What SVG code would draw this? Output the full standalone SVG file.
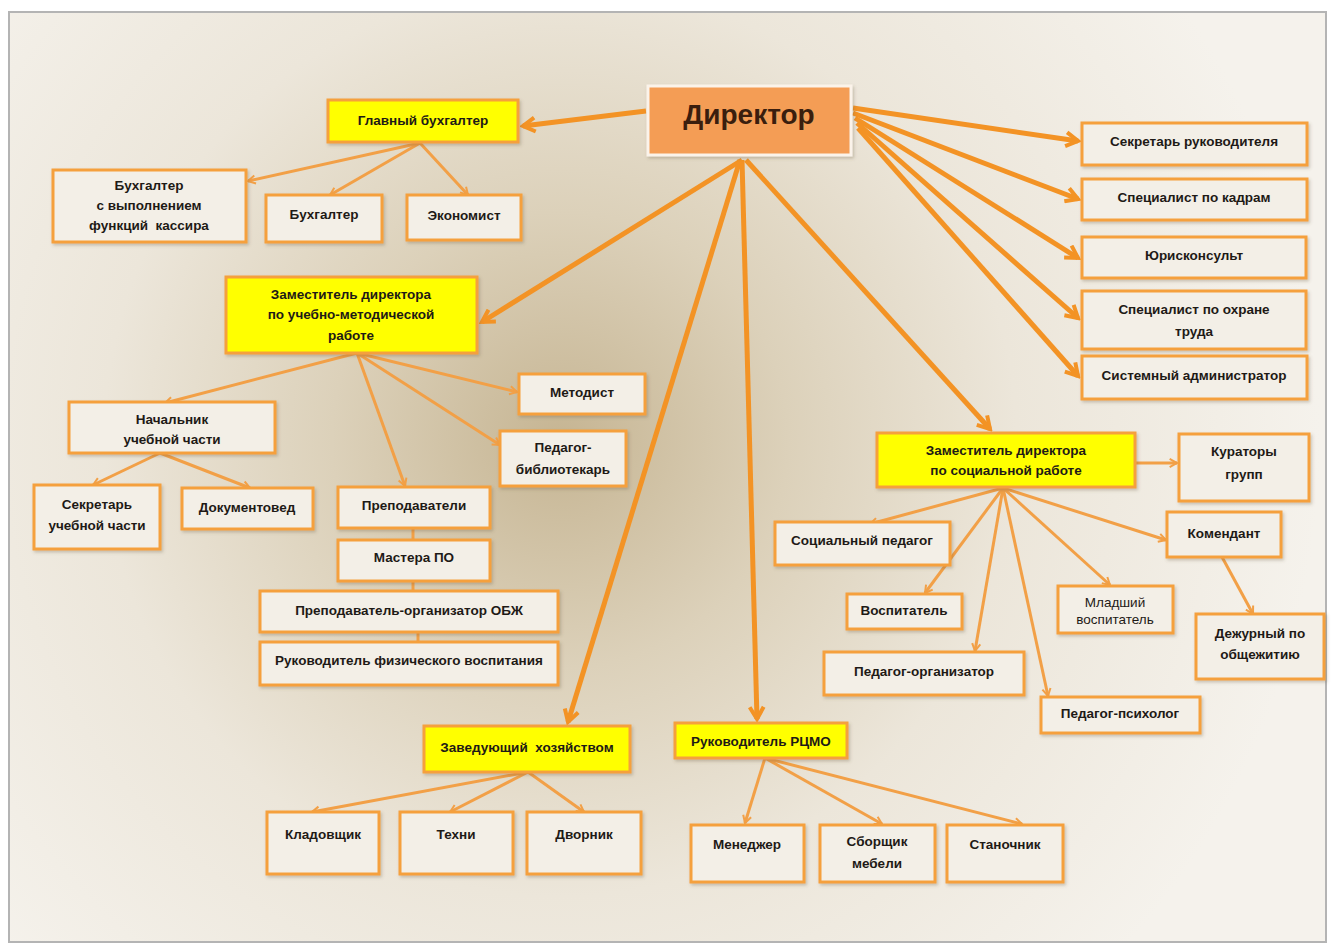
<svg xmlns="http://www.w3.org/2000/svg" width="1331" height="946" viewBox="0 0 1331 946">
<defs>
<radialGradient id="bg" cx="560" cy="440" r="760" gradientUnits="userSpaceOnUse">
<stop offset="0" stop-color="#c6b593"/>
<stop offset="0.3" stop-color="#dcd1ba"/>
<stop offset="0.6" stop-color="#ece6da"/>
<stop offset="1" stop-color="#f5f2ec"/>
</radialGradient>
<filter id="sh" x="-10%" y="-10%" width="125%" height="130%">
<feDropShadow dx="1.5" dy="2" stdDeviation="1.5" flood-color="#6b5a40" flood-opacity="0.3"/>
</filter>
<marker id="ah" viewBox="0 0 18 18" refX="15" refY="9" markerWidth="18" markerHeight="18" markerUnits="userSpaceOnUse" orient="auto">
<path d="M3,2 L15,9 L3,16" fill="none" stroke="#f39325" stroke-width="4" stroke-linejoin="miter"/>
</marker>
<marker id="as" viewBox="0 0 12 12" refX="10" refY="6" markerWidth="11" markerHeight="11" markerUnits="userSpaceOnUse" orient="auto">
<path d="M2,1.5 L10,6 L2,10.5" fill="none" stroke="#f2a047" stroke-width="2.2"/>
</marker>
<style>
.box{fill:#f3efe7;stroke:#f5a03c;stroke-width:3;filter:url(#sh)}
.yel{fill:#ffff00;stroke:#f5a03c;stroke-width:3;filter:url(#sh)}
.dir{fill:#f49d55;stroke:#fbf3ea;stroke-width:3;filter:url(#sh)}
text{font-family:"Liberation Sans",Arial,sans-serif;font-weight:bold;font-size:13.5px;fill:#1e1a16;text-anchor:middle}
.big{font-size:28px;fill:#3a1e0e}
.thin{font-weight:normal}
.thick{stroke:#f39325;stroke-width:5;fill:none;marker-end:url(#ah)}
.tl{stroke:#f2a047;stroke-width:3;fill:none;marker-end:url(#as)}
.tn{stroke:#f2a047;stroke-width:3;fill:none}
</style>
</defs>
<rect x="0" y="0" width="1331" height="946" fill="#ffffff"/>
<rect x="9" y="12" width="1317" height="930" fill="url(#bg)" stroke="#b4b4b4" stroke-width="2"/>

<g id="connectors">
<line class="thick" x1="646" y1="111" x2="523" y2="126"/>
<line class="thick" x1="853" y1="108" x2="1078" y2="141"/>
<line class="thick" x1="853" y1="113" x2="1078" y2="199"/>
<line class="thick" x1="855" y1="118" x2="1078" y2="258"/>
<line class="thick" x1="857" y1="123" x2="1078" y2="318"/>
<line class="thick" x1="858" y1="128" x2="1078" y2="376"/>
<line class="thick" x1="742" y1="160" x2="482" y2="322"/>
<line class="thick" x1="740" y1="160" x2="568" y2="722"/>
<line class="thick" x1="742" y1="160" x2="757" y2="719"/>
<line class="thick" x1="746" y1="160" x2="990" y2="429"/>

<line class="tl" x1="420" y1="143" x2="248" y2="181"/>
<line class="tl" x1="420" y1="143" x2="330" y2="195"/>
<line class="tl" x1="420" y1="143" x2="468" y2="195"/>

<line class="tl" x1="357" y1="353" x2="165" y2="403"/>
<line class="tl" x1="357" y1="353" x2="517" y2="392"/>
<line class="tl" x1="357" y1="353" x2="500" y2="445"/>
<line class="tl" x1="357" y1="353" x2="405" y2="486"/>

<line class="tl" x1="160" y1="453" x2="93" y2="485"/>
<line class="tl" x1="160" y1="453" x2="250" y2="488"/>

<line class="tn" x1="413" y1="528" x2="413" y2="540"/>
<line class="tn" x1="413" y1="581" x2="413" y2="591"/>
<line class="tn" x1="418" y1="632" x2="418" y2="642"/>

<line class="tl" x1="528" y1="772" x2="312" y2="812"/>
<line class="tl" x1="528" y1="772" x2="450" y2="812"/>
<line class="tl" x1="528" y1="772" x2="584" y2="812"/>

<line class="tl" x1="765" y1="758" x2="745" y2="823"/>
<line class="tl" x1="765" y1="758" x2="882" y2="824"/>
<line class="tl" x1="765" y1="758" x2="1022" y2="824"/>

<line class="tl" x1="1003" y1="488" x2="870" y2="524"/>
<line class="tl" x1="1003" y1="488" x2="925" y2="593"/>
<line class="tl" x1="1003" y1="488" x2="975" y2="651"/>
<line class="tl" x1="1003" y1="488" x2="1048" y2="696"/>
<line class="tl" x1="1003" y1="488" x2="1110" y2="585"/>
<line class="tl" x1="1003" y1="488" x2="1166" y2="540"/>
<line class="tl" x1="1136" y1="463" x2="1177" y2="463"/>
<line class="tl" x1="1222" y1="557" x2="1253" y2="614"/>
</g>

<g id="n-director"><rect class="dir" x="648" y="86" width="203" height="69"/><text class="big" x="749" y="124">Директор</text></g>
<g id="n-glbuh"><rect class="yel" x="328" y="100" width="190" height="42"/><text x="423" y="125">Главный бухгалтер</text></g>
<g id="n-buhkas"><rect class="box" x="53" y="170" width="193" height="72"/><text x="149" y="190">Бухгалтер</text><text x="149" y="210">с выполнением</text><text x="149" y="230" xml:space="preserve">функций  кассира</text></g>
<g id="n-buh"><rect class="box" x="266" y="195" width="116" height="47"/><text x="324" y="219">Бухгалтер</text></g>
<g id="n-econ"><rect class="box" x="407" y="195" width="114" height="45"/><text x="464" y="220">Экономист</text></g>

<g id="n-zamumr"><rect class="yel" x="226" y="277" width="251" height="76"/><text x="351" y="299">Заместитель директора</text><text x="351" y="319">по учебно-методической</text><text x="351" y="340">работе</text></g>
<g id="n-nachuch"><rect class="box" x="69" y="402" width="206" height="51"/><text x="172" y="424">Начальник</text><text x="172" y="444">учебной части</text></g>
<g id="n-metod"><rect class="box" x="519" y="374" width="126" height="40"/><text x="582" y="397">Методист</text></g>
<g id="n-pedbib"><rect class="box" x="500" y="431" width="126" height="55"/><text x="563" y="452">Педагог-</text><text x="563" y="474">библиотекарь</text></g>
<g id="n-sekruch"><rect class="box" x="34" y="485" width="126" height="64"/><text x="97" y="509">Секретарь</text><text x="97" y="530">учебной части</text></g>
<g id="n-dokum"><rect class="box" x="182" y="488" width="131" height="41"/><text x="247" y="512">Документовед</text></g>
<g id="n-prepod"><rect class="box" x="338" y="487" width="152" height="41"/><text x="414" y="510">Преподаватели</text></g>
<g id="n-master"><rect class="box" x="338" y="540" width="152" height="41"/><text x="414" y="562">Мастера ПО</text></g>
<g id="n-obzh"><rect class="box" x="260" y="591" width="298" height="41"/><text x="409" y="615">Преподаватель-организатор ОБЖ</text></g>
<g id="n-fiz"><rect class="box" x="260" y="642" width="298" height="43"/><text x="409" y="665">Руководитель физического воспитания</text></g>

<g id="n-zavhoz"><rect class="yel" x="424" y="726" width="206" height="46"/><text x="527" y="752" xml:space="preserve">Заведующий  хозяйством</text></g>
<g id="n-rcmo"><rect class="yel" x="675" y="723" width="172" height="35"/><text x="761" y="746">Руководитель РЦМО</text></g>
<g id="n-klad"><rect class="box" x="267" y="812" width="112" height="62"/><text x="323" y="839">Кладовщик</text></g>
<g id="n-tehni"><rect class="box" x="400" y="812" width="113" height="62"/><text x="456" y="839">Техни</text></g>
<g id="n-dvor"><rect class="box" x="527" y="812" width="114" height="62"/><text x="584" y="839">Дворник</text></g>
<g id="n-menedj"><rect class="box" x="691" y="825" width="113" height="57"/><text x="747" y="849">Менеджер</text></g>
<g id="n-sborsh"><rect class="box" x="820" y="825" width="115" height="57"/><text x="877" y="846">Сборщик</text><text x="877" y="868">мебели</text></g>
<g id="n-stan"><rect class="box" x="947" y="825" width="116" height="57"/><text x="1005" y="849">Станочник</text></g>

<g id="n-sekruk"><rect class="box" x="1082" y="123" width="225" height="42"/><text x="1194" y="146">Секретарь руководителя</text></g>
<g id="n-kadr"><rect class="box" x="1082" y="179" width="225" height="41"/><text x="1194" y="202">Специалист по кадрам</text></g>
<g id="n-yur"><rect class="box" x="1082" y="237" width="224" height="41"/><text x="1194" y="260">Юрисконсульт</text></g>
<g id="n-ohr"><rect class="box" x="1082" y="291" width="224" height="58"/><text x="1194" y="314">Специалист по охране</text><text x="1194" y="336">труда</text></g>
<g id="n-sysadm"><rect class="box" x="1082" y="356" width="225" height="43"/><text x="1194" y="380">Системный администратор</text></g>

<g id="n-zamsoc"><rect class="yel" x="877" y="433" width="258" height="54"/><text x="1006" y="455">Заместитель директора</text><text x="1006" y="475">по социальной работе</text></g>
<g id="n-kur"><rect class="box" x="1179" y="434" width="130" height="67"/><text x="1244" y="456">Кураторы</text><text x="1244" y="479">групп</text></g>
<g id="n-socped"><rect class="box" x="775" y="522" width="175" height="43"/><text x="862" y="545">Социальный педагог</text></g>
<g id="n-koment"><rect class="box" x="1167" y="512" width="114" height="45"/><text x="1224" y="538">Комендант</text></g>
<g id="n-vosp"><rect class="box" x="847" y="594" width="115" height="35"/><text x="904" y="615">Воспитатель</text></g>
<g id="n-mlvosp"><rect class="box" x="1058" y="586" width="115" height="47"/><text class="thin" x="1115" y="607">Младший</text><text class="thin" x="1115" y="624">воспитатель</text></g>
<g id="n-dezh"><rect class="box" x="1196" y="614" width="128" height="65"/><text x="1260" y="638">Дежурный по</text><text x="1260" y="659">общежитию</text></g>
<g id="n-pedorg"><rect class="box" x="824" y="652" width="200" height="43"/><text x="924" y="676">Педагог-организатор</text></g>
<g id="n-pedpsih"><rect class="box" x="1041" y="697" width="159" height="36"/><text x="1120" y="718">Педагог-психолог</text></g>
</svg>
